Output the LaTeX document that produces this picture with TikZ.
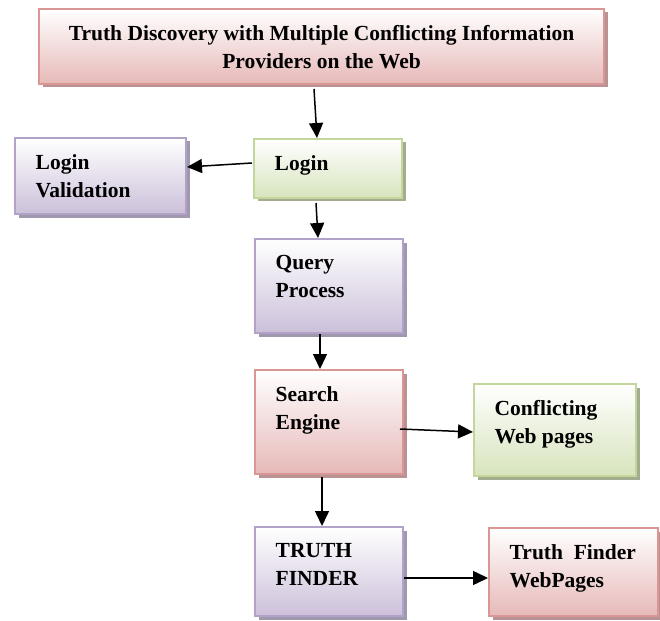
\documentclass[tikz,border=0pt]{standalone}
\usepackage{fontspec}
\setmainfont{Liberation Serif}
\usetikzlibrary{arrows.meta,calc,shadows}

\definecolor{redline}{HTML}{D99694}
\definecolor{redfill}{HTML}{E6B9B8}
\definecolor{redshade}{HTML}{B99393}
\definecolor{greenline}{HTML}{C3D69B}
\definecolor{greenfill}{HTML}{D7E4BD}
\definecolor{greenshade}{HTML}{A2AC8E}
\definecolor{purpleline}{HTML}{B3A2C7}
\definecolor{purplefill}{HTML}{CCC0DA}
\definecolor{purpleshade}{HTML}{A098AE}

\begin{document}
\begin{tikzpicture}[x=1pt, y=-1pt,
    box/.style={rectangle, anchor=north west, line width=2pt, inner sep=0pt},
    redbox/.style={box, draw=redline, top color=white, bottom color=redfill,
        drop shadow={shadow xshift=3.5pt, shadow yshift=-3.5pt, fill=redshade, opacity=1}},
    greenbox/.style={box, draw=greenline, top color=white, bottom color=greenfill,
        drop shadow={shadow xshift=3.5pt, shadow yshift=-3.5pt, fill=greenshade, opacity=1}},
    purplebox/.style={box, draw=purpleline, top color=white, bottom color=purplefill,
        drop shadow={shadow xshift=3.5pt, shadow yshift=-3.5pt, fill=purpleshade, opacity=1}},
    boxtext/.style={anchor=north west, inner sep=0pt, align=left,
        font=\fontsize{21.5}{28}\selectfont\bfseries, xshift=21.5pt, yshift=-17pt},
    arr/.style={line width=1.5pt, -{Triangle[length=15pt, width=14pt]}}]
    \useasboundingbox (0,0) rectangle (660,620);
    % boxes
    \node[redbox, minimum width=565pt, minimum height=75pt] (title) at (38,8) {};
    \node[font=\fontsize{21.5}{28}\selectfont\bfseries, align=center] (titletext) at ($(title.center)+(0,1)$)
        {Truth Discovery with Multiple Conflicting Information\\Providers on the Web};
    \node[purplebox, minimum width=171pt, minimum height=76pt,
        label={[boxtext]north west:Login\\Validation}] (valid) at (14,137) {};
    \node[greenbox, minimum width=148pt, minimum height=59pt,
        label={[boxtext]north west:Login}] (login) at (253,138) {};
    \node[purplebox, minimum width=148pt, minimum height=94pt,
        label={[boxtext]north west:Query\\Process}] (query) at (254,238) {};
    \node[redbox, minimum width=148pt, minimum height=104pt,
        label={[boxtext]north west:Search\\Engine}] (search) at (254,369) {};
    \node[greenbox, minimum width=162pt, minimum height=92pt,
        label={[boxtext]north west:Conflicting\\Web pages}] (conflict) at (473,383) {};
    \node[purplebox, minimum width=148pt, minimum height=89pt,
        label={[boxtext]north west:TRUTH\\FINDER}] (finder) at (254,526) {};
    \node[redbox, minimum width=169pt, minimum height=88pt,
        label={[boxtext]north west:Truth\ \ Finder\\WebPages}] (pages) at (488,527) {};
    % arrows
    \draw[arr] ($(title.south west)+(276,4)$) -- ($(login.north west)+(64,0)$);
    \draw[arr] ($(login.north west)+(-1,25)$) -- ($(valid.north east)+(0,30)$);
    \draw[arr] ($(login.south west)+(63,4)$) -- ($(query.north west)+(64,0)$);
    \draw[arr] ($(query.south west)+(66,0)$) -- ($(search.north west)+(66,0)$);
    \draw[arr] ($(search.north east)+(-4,60)$) -- ($(conflict.north west)+(0,49)$);
    \draw[arr] ($(search.south west)+(68,2)$) -- ($(finder.north west)+(68,0)$);
    \draw[arr] ($(finder.north east)+(0,52)$) -- ($(pages.north west)+(0,51)$);
\end{tikzpicture}
\end{document}
